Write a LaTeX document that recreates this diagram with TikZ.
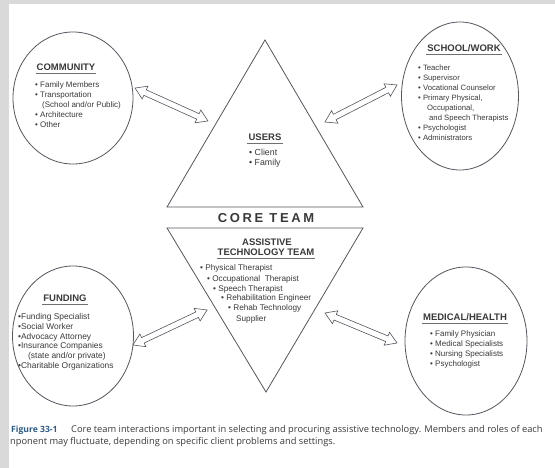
\documentclass[tikz,border=0pt]{standalone}
\usepackage{fontspec}
\setmainfont{Liberation Sans}
\newfontfamily\capfont{Open Sans}
\usetikzlibrary{shapes.geometric}
\definecolor{ink}{HTML}{3A3A3A}
\definecolor{edge}{HTML}{55555F}
\definecolor{rule}{HTML}{707070}
\definecolor{band}{HTML}{D9D9D9}
\definecolor{figblue}{HTML}{2E5C8A}

% title with a grey rule under it
\newcommand\grouptitle[4]{%
  \node[title] (#1) at (#2,#3) {#4};
  \draw[uline] ([xshift=-1pt,yshift=-2.6pt]#1.base west) -- ([xshift=1pt,yshift=-2.6pt]#1.base east);
}
% hollow two-headed block arrow: name, centre x, centre y, angle, length
\newcommand\twinarrow[5]{%
  \begin{scope}[shift={(#2,#3)}, rotate=#4]
    \coordinate (#1) at (0,0);
    \pgfmathsetmacro\hl{#5/2}
    \draw[link] (-\hl,0) -- (-\hl+11,7) -- (-\hl+11,3) -- (\hl-11,3) -- (\hl-11,7)
      -- (\hl,0) -- (\hl-11,-7) -- (\hl-11,-3) -- (-\hl+11,-3) -- (-\hl+11,-7) -- cycle;
  \end{scope}
}

\begin{document}
\begin{tikzpicture}[x=1pt,y=-1pt,
  shapeline/.style={draw=edge, line width=0.8pt},
  group/.style={shapeline, ellipse, inner sep=0pt},
  title/.style={font=\fontsize{9.5}{11}\selectfont\bfseries, text=ink, inner sep=0pt, anchor=base},
  item/.style={font=\fontsize{8}{9}\selectfont, text=ink, inner sep=0pt, anchor=base west},
  uline/.style={draw=rule, line width=1.1pt},
  link/.style={draw=edge, line width=0.6pt, fill=white, line join=miter},
  captext/.style={anchor=base west, inner sep=0pt, font=\capfont\fontsize{9.3}{11}\selectfont, text=ink},
]
\useasboundingbox (0,0) rectangle (555,468);
\fill[white] (0,0) rectangle (555,468);

% ---- the four surrounding groups ----
\node[group, minimum width=120pt, minimum height=132pt] (community) at (73,98) {};
\node[group, minimum width=117pt, minimum height=148pt] (school) at (460,96) {};
\node[group, minimum width=121pt, minimum height=140pt] (funding) at (73,336) {};
\node[group, minimum width=122pt, minimum height=148pt] (medical) at (466,341) {};

% ---- core team: users above, assistive technology team below ----
\coordinate (uapex) at (265,40);
\coordinate (ubl) at (167,207);
\coordinate (ubr) at (363,207);
\draw[shapeline] (uapex) -- (ubr) -- (ubl) -- cycle;
\coordinate (lbl) at (167,228);
\coordinate (lbr) at (363,228);
\coordinate (lapex) at (266,392);
\draw[shapeline] (lbl) -- (lbr) -- (lapex) -- cycle;

\node[font=\fontsize{13}{15}\selectfont\bfseries, text=ink, inner sep=0pt] (core) at (266,218)
  {\addfontfeatures{LetterSpace=20}CORE TEAM};

% ---- interaction arrows ----
\twinarrow{acom}{171.5}{104.5}{-24.3}{80}
\twinarrow{asch}{361}{103.5}{27.2}{81}
\twinarrow{afun}{170}{327.5}{25.3}{82}
\twinarrow{amed}{361}{328}{-22.6}{78}

% ---- COMMUNITY ----
\grouptitle{comT}{66}{70.5}{COMMUNITY}
\foreach \dx/\t [count=\i] in {0/{• Family Members}, 0/{• Transportation},
    7/{(School and/or Public)}, 0/{• Architecture}, 0/{• Other}}
  \node[item, name=com\i] at (35+\dx, 77.5+10*\i) {\t};

% ---- SCHOOL/WORK ----
\grouptitle{schT}{464}{51.5}{SCHOOL/WORK}
\foreach \dx/\t [count=\i] in {0/{• Teacher}, 0/{• Supervisor}, 0/{• Vocational Counselor},
    0/{• Primary Physical,}, 9/{Occupational,}, 11/{and Speech Therapists},
    0/{• Psychologist}, 0/{• Administrators}}
  \node[item, font=\fontsize{7.7}{9}\selectfont, name=sch\i] at (418+\dx, 60.5+10*\i) {\t};

% ---- USERS ----
\grouptitle{usrT}{265}{141}{USERS}
\node[item, font=\fontsize{8.8}{10}\selectfont] (usr1) at (249,155.5) {• Client};
\node[item, font=\fontsize{8.8}{10}\selectfont] (usr2) at (249,165.5) {• Family};

% ---- ASSISTIVE TECHNOLOGY TEAM ----
\node[title] (atT1) at (267,245.5) {ASSISTIVE};
\grouptitle{atT2}{266}{255.5}{TECHNOLOGY TEAM}
\foreach \dx/\t [count=\i] in {200/{• Physical Therapist}, 207/{• Occupational\ \ Therapist},
    213/{• Speech Therapist}, 221/{• Rehabilitation Engineer},
    228/{• Rehab Technology}, 236/{Supplier}}
  \node[item, font=\fontsize{8.2}{9}\selectfont, name=at\i] at (\dx, 261+10*\i) {\t};

% ---- FUNDING ----
\grouptitle{funT}{65}{301.5}{FUNDING}
\foreach \dx/\t [count=\i] in {0/{•Funding Specialist}, 0/{•Social Worker},
    0/{•Advocacy Attorney}, 0/{•Insurance Companies},
    10/{(state and/or private)}, 0/{•Charitable Organizations}}
  \node[item, font=\fontsize{8.4}{9}\selectfont, name=fun\i] at (18+\dx, 310+9.7*\i) {\t};

% ---- MEDICAL/HEALTH ----
\grouptitle{medT}{465}{320.5}{MEDICAL/HEALTH}
\foreach \t [count=\i] in {{• Family Physician}, {• Medical Specialists},
    {• Nursing Specialists}, {• Psychologist}}
  \node[item, name=med\i] at (430, 326.5+10*\i) {\t};

% ---- caption ----
\node[captext, font=\capfont\fontsize{8.6}{11}\selectfont\bfseries, text=figblue] (capLabel) at (11,432) {Figure 33-1};
\node[captext] (cap1) at (71,432)
  {Core team interactions important in selecting and procuring assistive technology. Members and roles of each};
\node[captext] (cap2) at (10,444)
  {nponent may fluctuate, depending on specific client problems and settings.};

% ---- page edge shading ----
\fill[band] (0,0) rectangle (9,468);
\fill[band] (0,0) rectangle (555,4);
\end{tikzpicture}
\end{document}
